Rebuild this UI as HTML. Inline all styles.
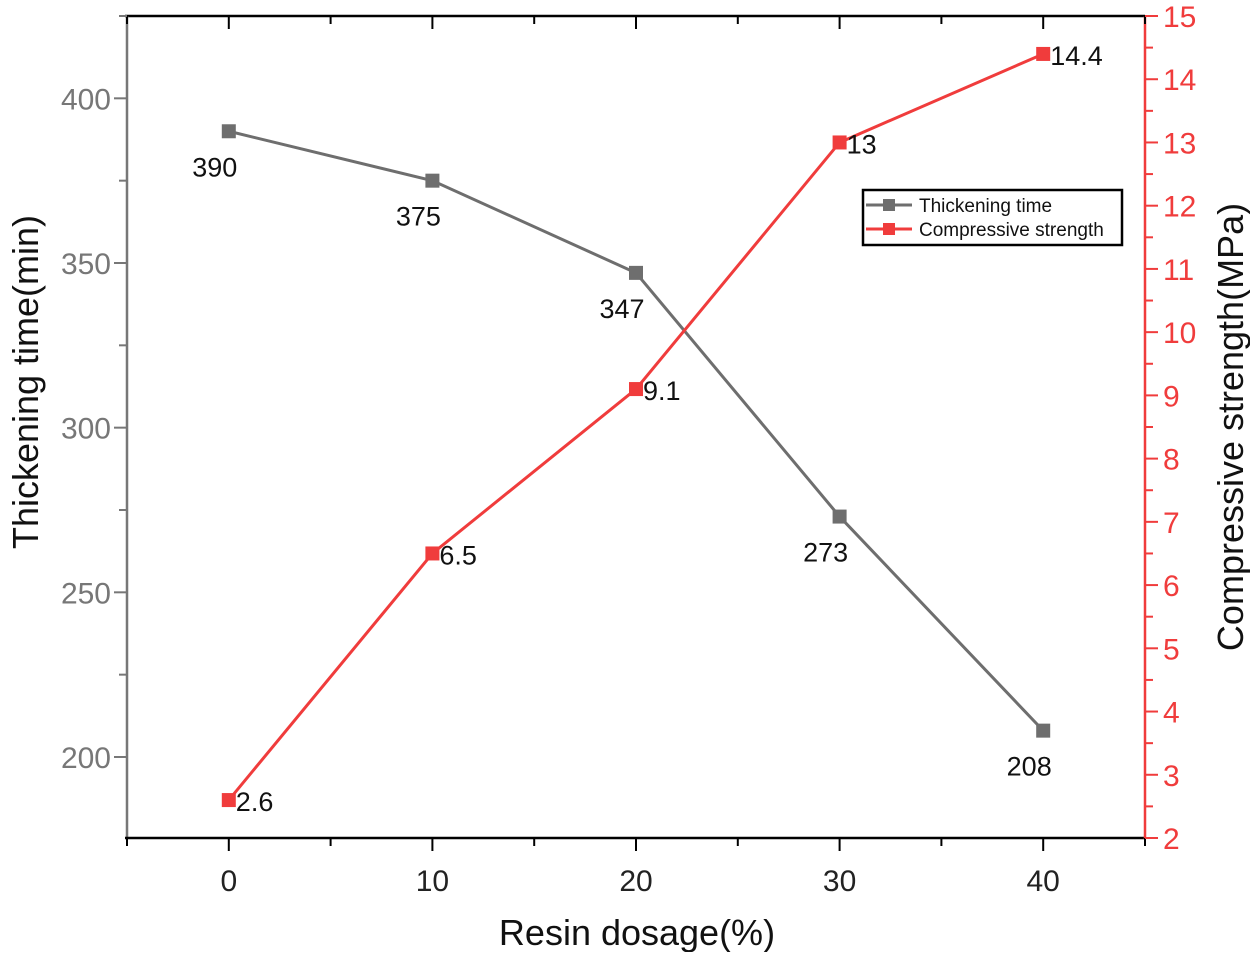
<!DOCTYPE html>
<html><head><meta charset="utf-8"><style>
body{margin:0;background:#fff}
svg text{font-family:"Liberation Sans",sans-serif}
</style></head><body>
<svg id="c" width="1250" height="952" xmlns="http://www.w3.org/2000/svg"></svg>
<script>
const categories=[0,10,20,30,40];
const thickeningTime=[390,375,347,273,208];
const compressiveStrength=[2.6,6.5,9.1,13,14.4];
const xTicks=[0,10,20,30,40];
const leftTicks=[200,250,300,350,400];
const rightTicks=[2,3,4,5,6,7,8,9,10,11,12,13,14,15];
const L=127,R=1145,T=16,B=838;
const X=v=>L+(v+5)/50*(R-L);
const YL=v=>B-(v-175.4)/(425-175.4)*(B-T);
const YR=v=>B-(v-2)/13*(B-T);
const svg=document.getElementById('c');
const NS='http://www.w3.org/2000/svg';
function el(t,a,txt){const e=document.createElementNS(NS,t);for(const k in a)e.setAttribute(k,a[k]);if(txt!==undefined)e.textContent=txt;svg.appendChild(e);return e;}
let e;
e=el('line',{x1:L-2,y1:T,x2:R,y2:T,stroke:'#000','stroke-width':2.5});

e=el('line',{x1:L,y1:T,x2:L,y2:B+1,stroke:'#777','stroke-width':2.5});

e=el('line',{x1:L-2,y1:B,x2:R,y2:B,stroke:'#000','stroke-width':2.5});

e=el('line',{x1:R,y1:T,x2:R,y2:B+1,stroke:'#f03c3c','stroke-width':2.5});

for(let v=-5;v<=45;v+=5){const maj=v%10===0;const x=X(v);
 el('line',{x1:x,y1:B,x2:x,y2:B+(maj?13:8),stroke:'#000','stroke-width':2});
 el('line',{x1:x,y1:T,x2:x,y2:T+(maj?13:8),stroke:'#000','stroke-width':2});}
xTicks.forEach(v=>{e=el('text',{x:X(v),y:B+53,'text-anchor':'middle','font-size':30,fill:'#222'},v);
 });
for(let v=175;v<=425;v+=25){if(v<175.4)continue;const y=YL(v);const maj=v%50===0;
 el('line',{x1:L,y1:y,x2:L-(maj?13:8),y2:y,stroke:'#777','stroke-width':2});}
leftTicks.forEach(v=>{e=el('text',{x:L-16,y:YL(v)+11,'text-anchor':'end','font-size':30,fill:'#777'},v);
 });
for(let v=2;v<=15;v+=0.5){const y=YR(v);const maj=v%1===0;
 el('line',{x1:R,y1:y,x2:R+(maj?13:8),y2:y,stroke:'#f03c3c','stroke-width':2});}
rightTicks.forEach(v=>{e=el('text',{x:R+18,y:YR(v)+11,'font-size':30,fill:'#f03c3c'},v);
 });
e=el('text',{x:637,y:945,'text-anchor':'middle','font-size':36,fill:'#111'},'Resin dosage(%)');

e=el('text',{x:0,y:0,'text-anchor':'middle','font-size':36,fill:'#111',transform:'translate(38,382) rotate(-90)'},'Thickening time(min)');

e=el('text',{x:0,y:0,'text-anchor':'middle','font-size':36,fill:'#111',transform:'translate(1243,427) rotate(-90)'},'Compressive strength(MPa)');

function series(vals,Y,col,name,labelFn){
 const pts=categories.map((c,i)=>X(c)+','+Y(vals[i])).join(' ');
 e=el('polyline',{points:pts,fill:'none',stroke:col,'stroke-width':3});
 
 categories.forEach((c,i)=>{const x=X(c),y=Y(vals[i]);
  e=el('rect',{x:x-7,y:y-7,width:14,height:14,fill:col});
  
  labelFn(x,y,vals[i]);});
}
series(thickeningTime,YL,'#6e6e6e','thickening-time',(x,y,v)=>{
 e=el('text',{x:x-14,y:y+45,'text-anchor':'middle','font-size':27,fill:'#111'},v);
 });
series(compressiveStrength,YR,'#f03c3c','compressive-strength',(x,y,v)=>{
 e=el('text',{x:x+7,y:y+11,'font-size':27,fill:'#111'},v);
 });
e=el('rect',{x:863,y:190,width:259,height:55,fill:'#fff',stroke:'#000','stroke-width':2.5});

[['Thickening time','#6e6e6e',205],['Compressive strength','#f03c3c',229]].forEach(([t,c,y])=>{
 el('line',{x1:866,y1:y,x2:912,y2:y,stroke:c,'stroke-width':3});
 el('rect',{x:883,y:y-6,width:12,height:12,fill:c});
 e=el('text',{x:919,y:y+7,'font-size':19,fill:'#111'},t);
 });
</script>
</body></html>
